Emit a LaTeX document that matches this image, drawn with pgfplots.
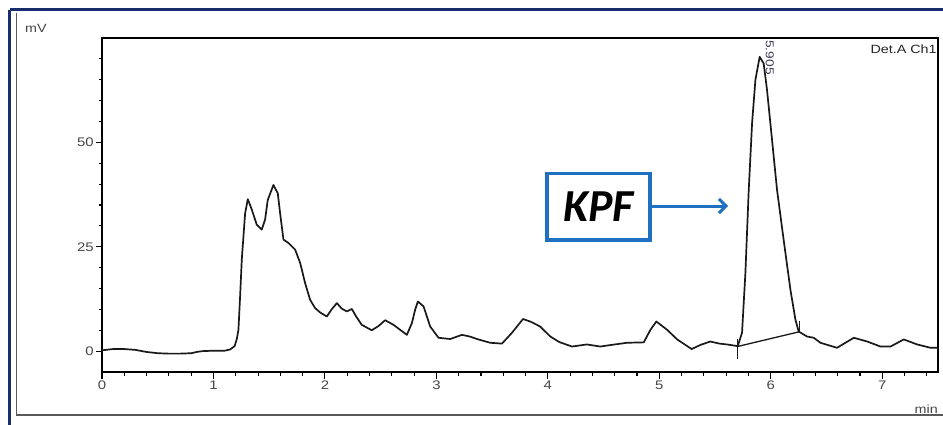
\documentclass[border=0pt]{standalone}
\usepackage{fontspec}
\setmainfont{Liberation Sans}
\newfontfamily\chartfont{Liberation Sans}[FakeStretch=1.2]
\newfontfamily\kpffont{Carlito}
\usepackage{pgfplots}
\pgfplotsset{compat=1.18}
\usetikzlibrary{arrows.meta}
\definecolor{navyframe}{RGB}{22,45,110}
\definecolor{grayframe}{RGB}{90,90,90}
\definecolor{ticktext}{RGB}{70,70,70}
\definecolor{kpfblue}{RGB}{31,112,192}
\definecolor{peaklbl}{RGB}{60,60,90}
\begin{document}
\begin{tikzpicture}[x=1bp,y=1bp]
\useasboundingbox (0,0) rectangle (943,424);
\fill[white] (0,0) rectangle (943,424);
\draw[navyframe, line width=3bp] (9.5,414) -- (960,414);
\draw[navyframe, line width=3bp] (9.5,414) -- (9.5,-20);
\draw[grayframe, line width=1.2bp] (16.5,410.5) -- (16.5,9) -- (960,9);
\begin{axis}[
  at={(102bp,52bp)}, anchor=south west,
  scale only axis, width=836bp, height=334bp,
  xmin=0, xmax=7.5, ymin=-5, ymax=75,
  xtick={0,1,2,3,4,5,6,7},
  ytick={0,25,50},
  minor xtick={0.2,0.4,0.6,0.8,1.2,1.4,1.6,1.8,2.2,2.4,2.6,2.8,3.2,3.4,3.6,3.8,4.2,4.4,4.6,4.8,5.2,5.4,5.6,5.8,6.2,6.4,6.6,6.8,7.2,7.4},
  minor ytick={5,10,15,20,30,35,40,45,55,60,65,70},
  xtick pos=bottom, ytick pos=left,
  tick align=outside,
  major tick length=6.5bp, minor tick length=3.5bp,
  tick style={black, line width=1.1bp},
  axis line style={black, line width=1.3bp},
  /pgf/number format/assume math mode=true,
  ticklabel style={font=\chartfont\fontsize{12.5}{14}\selectfont, text=ticktext},
  yticklabel style={inner sep=1.5bp},
  xticklabel style={inner sep=2bp},
  clip=false,
]
\addplot[black!90, line width=1.7bp, sharp plot, line join=round] coordinates {
(0,0.2) (0.1,0.5) (0.2,0.5) (0.3,0.3) (0.4,-0.2) (0.5,-0.5) (0.6,-0.6) (0.7,-0.6) (0.8,-0.5) (0.85,-0.2) (0.9,0) (1.0,0.1) (1.1,0.1) (1.15,0.4) (1.19,1.2) (1.21,3) (1.224,5.1) (1.239,13.1) (1.254,21.9) (1.269,27.5) (1.284,33) (1.308,36.4) (1.344,33.9) (1.388,30.3) (1.433,29.1) (1.463,31.5) (1.487,36.2) (1.538,39.8) (1.577,37.8) (1.598,33) (1.628,26.7) (1.673,25.9) (1.733,24.3) (1.778,21.1) (1.822,16.3) (1.867,12.3) (1.912,10.3) (1.96,9.2) (2.017,8.3) (2.06,10) (2.107,11.5) (2.15,10.2) (2.196,9.5) (2.241,10.1) (2.28,8.3) (2.33,6.3) (2.42,5.0) (2.48,6) (2.54,7.4) (2.615,6.3) (2.68,5) (2.735,3.9) (2.78,6.7) (2.81,10) (2.834,11.9) (2.885,10.7) (2.944,5.9) (3.019,3.2) (3.124,2.9) (3.229,3.9) (3.3,3.5) (3.364,2.9) (3.483,2.0) (3.588,1.8) (3.678,4.4) (3.777,7.7) (3.85,7) (3.93,5.9) (4.022,3.5) (4.1,2.2) (4.216,1.1) (4.35,1.6) (4.47,1.1) (4.6,1.6) (4.71,2.0) (4.86,2.1) (4.92,5.1) (4.973,7.1) (5.07,5.1) (5.16,2.8) (5.29,0.5) (5.37,1.5) (5.457,2.3) (5.54,1.8) (5.607,1.6) (5.703,1.2) (5.742,4.4) (5.772,18.7) (5.802,38.6) (5.832,54.6) (5.862,65) (5.9,70.5) (5.936,68.9) (5.966,62.6) (6.011,50.6) (6.056,38.6) (6.115,26.7) (6.176,14.7) (6.221,7.5) (6.25,4.7) (6.325,3.5) (6.385,3.2) (6.445,2.0) (6.594,0.8) (6.745,3.2) (6.865,2.3) (6.984,1.1) (7.074,1.1) (7.193,2.8) (7.313,1.6) (7.433,0.8) (7.5,0.8)
};
\addplot[black!90, line width=1.3bp] coordinates {(5.70,1.1) (6.25,4.6)};
\addplot[black!90, line width=1.3bp] coordinates {(5.70,3.0) (5.70,-2.0)};
\addplot[black!90, line width=1.3bp] coordinates {(6.255,7.2) (6.255,4.4)};
\node[rotate=-90, anchor=west, inner sep=0pt, text=peaklbl, font=\chartfont\fontsize{11.5}{13}\selectfont] at (axis cs:5.99,74.5) {5.905};
\node[anchor=north east, inner sep=0pt, font=\chartfont\fontsize{12}{14}\selectfont, text=black!85] at (axis cs:7.49,73.3) {Det.A Ch1};
\end{axis}
\node[anchor=west, inner sep=0pt, font=\chartfont\fontsize{12}{14}\selectfont, text=ticktext] at (25,396) {mV};
\node[anchor=east, inner sep=0pt, font=\chartfont\fontsize{12}{14}\selectfont, text=ticktext] at (938,15) {min};
\draw[kpfblue, line width=3.5bp] (547,250.5) rectangle (650,184);
\node[font=\kpffont\bfseries\itshape\fontsize{46}{50}\selectfont, text=black, inner sep=0pt] at (598.5,217) {KPF};
\draw[kpfblue, line width=3bp, -{Straight Barb[length=7bp, width=14bp, line width=3bp]}] (651.5,218) -- (728,218);
\end{tikzpicture}
\end{document}
